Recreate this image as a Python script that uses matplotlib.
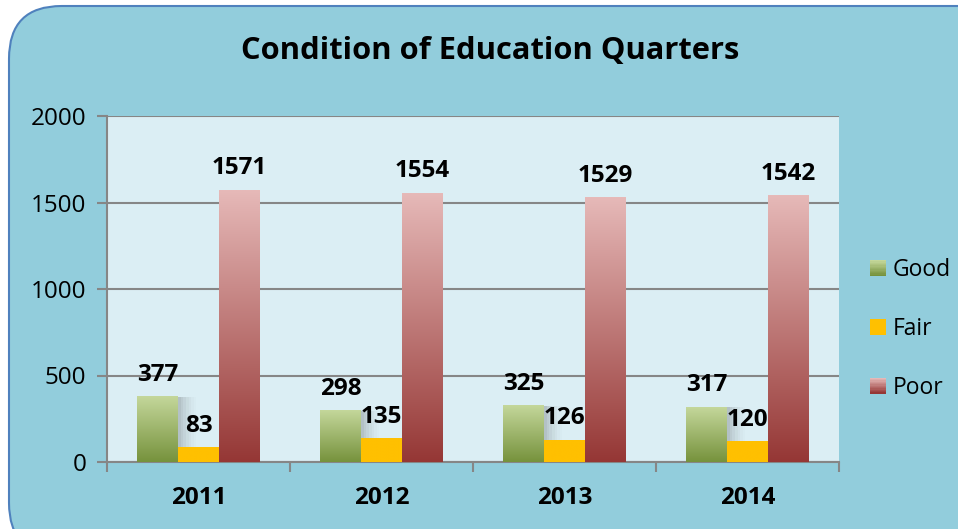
import numpy as np
import matplotlib
matplotlib.use("Agg")
import matplotlib.pyplot as plt
from matplotlib.patches import FancyBboxPatch, Rectangle
from matplotlib.colors import LinearSegmentedColormap
from matplotlib.legend_handler import HandlerBase

years = ["2011", "2012", "2013", "2014"]
good = [377, 298, 325, 317]
fair = [83, 135, 126, 120]
poor = [1571, 1554, 1529, 1542]
series_names = ["Good", "Fair", "Poor"]
title = "Condition of Education Quarters"
yticks = [0, 500, 1000, 1500, 2000]

plt.rcParams['font.family'] = ['Open Sans', 'DejaVu Sans']

grad = {
    "Good": ("#C4D79B", "#76923C"),
    "Fair": ("#FFC000", "#FFC000"),
    "Poor": ("#E6B9B8", "#953735"),
}

fig = plt.figure(figsize=(9.58, 5.29), dpi=100, facecolor="white")
bg = FancyBboxPatch((9/958, -0.05), 1.05, (529-6)/529 + 0.05,
                    boxstyle="round,pad=0,rounding_size=0.055",
                    transform=fig.transFigure, facecolor="#92CDDC",
                    edgecolor="#4F81BD", linewidth=1.5, mutation_aspect=958/529,
                    zorder=-10)
fig.patches.append(bg)

ax = fig.add_axes([107/958, 67/529, 732/958, 346/529])
ax.set_zorder(1)
ax.set_facecolor("#DBEEF4")
ax.set_xlim(-0.5, len(years) - 0.5)
ax.set_ylim(0, 2000)

w = 0.224
x = np.arange(len(years))

def grad_bar(xc, h, name):
    top, bot = grad[name]
    cmap = LinearSegmentedColormap.from_list(name, [bot, top])
    arr = np.linspace(1, 0, 256).reshape(-1, 1)
    ax.imshow(arr, cmap=cmap, vmin=0, vmax=1, aspect="auto",
              extent=[xc - w/2, xc + w/2, 0, h], zorder=3, interpolation="bilinear")

# soft shadow behind good bars
for xi, g in zip(x, good):
    for k, a in enumerate([0.07, 0.06, 0.05, 0.04, 0.03, 0.02, 0.015]):
        d = 0.009 * (k + 1)
        ax.add_patch(Rectangle((xi - w - w/2 + d, 0), w + d * 0.6, g - d * 30,
                               facecolor="#4a4a4a", alpha=a, edgecolor="none", zorder=2.5))

for xi, (g, f, p) in enumerate(zip(good, fair, poor)):
    grad_bar(xi - w, g, "Good")
    grad_bar(xi, f, "Fair")
    grad_bar(xi + w, p, "Poor")
    for off, v in [(-w, g), (0, f), (w, p)]:
        ax.annotate(str(v), (xi + off, v), xytext=(0, 7), textcoords="offset points",
                    ha="center", va="bottom", fontsize=17.5, fontweight="bold", zorder=5)

ax.set_xlim(-0.5, len(years) - 0.5)
ax.set_ylim(0, 2000)
ax.set_yticks(yticks)
ax.set_yticklabels([str(t) for t in yticks], fontsize=17.5)
ax.yaxis.grid(True, color="#868686", linewidth=1.5, zorder=0)
ax.set_axisbelow(True)
ax.set_xticks(x)
ax.set_xticklabels(years, fontsize=17.5, fontweight="bold")
ax.set_xticks(np.arange(len(years) + 1) - 0.5, minor=True)
ax.tick_params(axis="x", which="major", length=0, pad=17)
ax.tick_params(axis="x", which="minor", length=7, width=1.5, color="#868686", direction="out")
ax.tick_params(axis="y", length=7, width=1.5, color="#868686", pad=8)
for s in ["top", "right"]:
    ax.spines[s].set_visible(False)
for s in ["left", "bottom"]:
    ax.spines[s].set_color("#868686")
    ax.spines[s].set_linewidth(1.5)

fig.text(490/958, 1 - 51/529, title, ha="center", va="center", fontsize=22.2, fontweight="bold")

class GradHandler(HandlerBase):
    def __init__(self, name):
        super().__init__()
        self.name = name
    def create_artists(self, legend, orig_handle, xdescent, ydescent, width, height, fontsize, trans):
        top, bot = grad[self.name]
        cmap = LinearSegmentedColormap.from_list(self.name, [bot, top])
        n = 12
        arts = []
        s = height
        x0 = -xdescent + (width - s)
        for i in range(n):
            c = cmap(i / (n - 1))
            r = Rectangle((x0, -ydescent + s * i / n), s, s / n + 0.2,
                          facecolor=c, edgecolor="none", transform=trans)
            arts.append(r)
        return arts

handles = [Rectangle((0, 0), 1, 1) for _ in series_names]
fig.legend(handles, series_names, loc="center left", bbox_to_anchor=(870/958, 1 - 329/529),
           frameon=False, fontsize=16.5, handler_map={h: GradHandler(n) for h, n in zip(handles, series_names)},
           handlelength=0.7, handleheight=0.7, handletextpad=0.3, labelspacing=1.52,
           borderaxespad=0, borderpad=0)

fig.savefig("out.png", dpi=100, facecolor="white")
